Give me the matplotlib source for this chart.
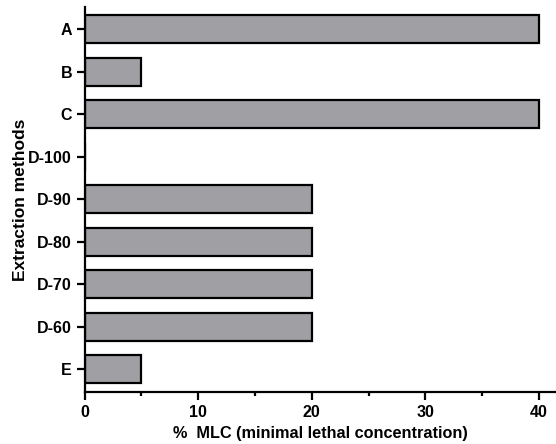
import matplotlib
matplotlib.use("Agg")
import matplotlib.pyplot as plt
from matplotlib.ticker import MultipleLocator

methods = ["A", "B", "C", "D-100", "D-90", "D-80", "D-70", "D-60", "E"]
mlc = [40, 5, 40, 0, 20, 20, 20, 20, 5]

plt.rcParams['font.family'] = ['Liberation Sans', 'DejaVu Sans']
plt.rcParams['font.weight'] = 'bold'

fig = plt.figure(figsize=(5.56, 4.44), dpi=100)
ax = fig.add_axes([0.152, 0.117, 0.848, 0.867])

y = list(range(len(methods)))
ax.barh(y, mlc, height=0.66, color='#a09fa4', edgecolor='black', linewidth=1.6)

ax.set_yticks(y)
ax.set_yticklabels(methods, fontsize=11.5, fontweight='bold')
ax.set_ylim(len(methods) - 0.46, -0.52)
ax.set_xlim(0, 41.5)
ax.xaxis.set_major_locator(MultipleLocator(10))
ax.xaxis.set_minor_locator(MultipleLocator(5))
for lab in ax.get_xticklabels():
    lab.set_fontsize(11.5)
    lab.set_fontweight('bold')

ax.spines['top'].set_visible(False)
ax.spines['right'].set_visible(False)
for s in ['left', 'bottom']:
    ax.spines[s].set_linewidth(1.6)
ax.tick_params(axis='both', which='major', width=1.6, length=6, pad=3)
ax.tick_params(axis='x', which='minor', width=1.6, length=3)

ax.set_xlabel('%  MLC (minimal lethal concentration)', fontsize=11.7, fontweight='bold', labelpad=5)
ax.set_ylabel('Extraction methods', fontsize=12.5, fontweight='bold', labelpad=0)

fig.savefig('out.png', dpi=100)
